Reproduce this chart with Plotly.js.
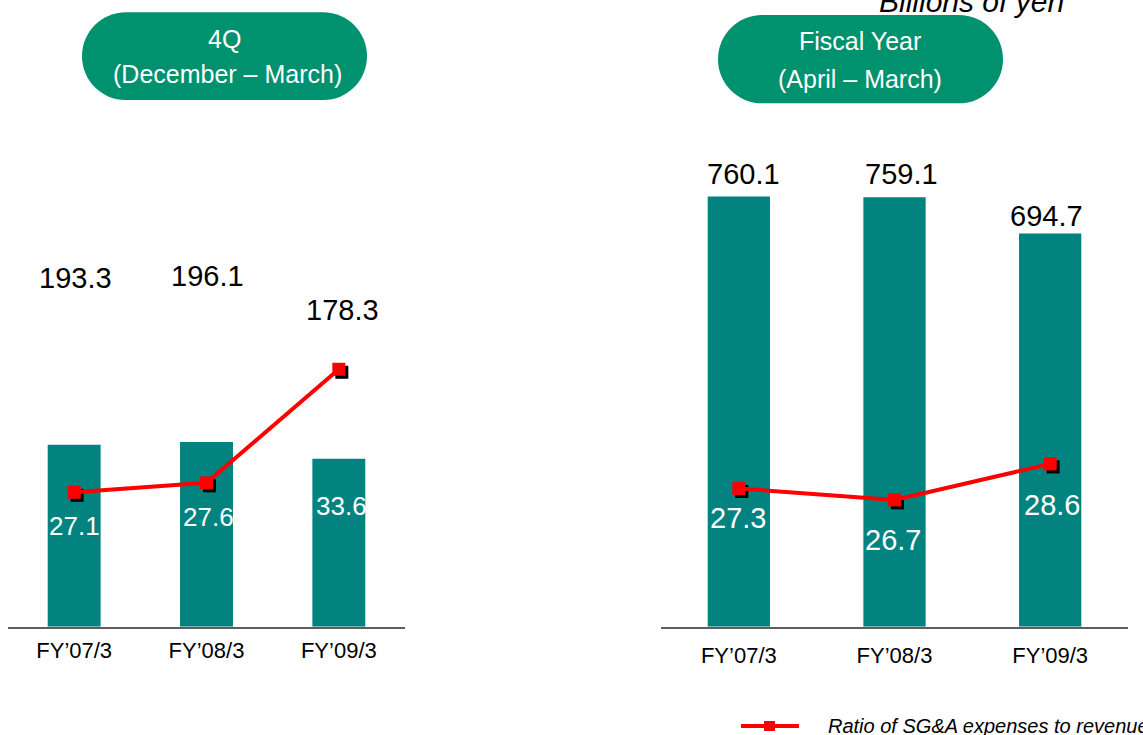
<!DOCTYPE html>
<html>
<head>
<meta charset="utf-8">
<script src="https://cdn.plot.ly/plotly-3.0.1.min.js"></script>
<style>html,body{margin:0;padding:0;background:#fff;}#chart{width:1143px;height:735px;}</style>
</head>
<body>
<div id="chart"></div>
<script>
// ---- data ----
const periods = ['FY\u201907/3', 'FY\u201908/3', 'FY\u201909/3'];
const quarterSGA = [193.3, 196.1, 178.3];     // 4Q SG&A, billions of yen
const quarterRatio = [27.1, 27.6, 33.6];      // 4Q ratio to revenue, %
const yearSGA = [760.1, 759.1, 694.7];        // fiscal year SG&A
const yearRatio = [27.3, 26.7, 28.6];         // fiscal year ratio, %
const leftTitle = ['4Q', '(December \u2013 March)'];
const rightTitle = ['Fiscal Year', '(April \u2013 March)'];
const unitText = 'Billions of yen';
const legendText = 'Ratio of SG&A expenses to revenue';

// ---- layout helpers ----
const W = 1143, H = 735;
const fx = p => p / W;
const fy = p => 1 - p / H;
const BAR = '#02837F', RED = '#FF0000', PILL = '#00916E';
const FONT = 'Liberation Sans, Arial, sans-serif';

const leftDom = [fx(8), fx(405)];
const rightDom = [fx(661), fx(1128)];
const yDom = [fy(626.7), fy(120)];
const SH = 3; // shadow offset px
const leftDomS = [fx(8 + SH), fx(405 + SH)];
const rightDomS = [fx(661 + SH), fx(1128 + SH)];
const yDomS = [fy(626.7 + SH), fy(120 + SH)];

const qMax = 538.1, yMax = 895.5, rRange = [20, 46.77];

function pill(x0, y0, x1, y1) {
  const r = (y1 - y0) / 2, k = 0.5523 * r;
  const P = (x, y) => fx(x).toFixed(5) + ',' + fy(y).toFixed(5);
  return 'M' + P(x0 + r, y0) + ' L' + P(x1 - r, y0) +
    ' C' + P(x1 - r + k, y0) + ' ' + P(x1, y0 + r - k) + ' ' + P(x1, y0 + r) +
    ' C' + P(x1, y0 + r + k) + ' ' + P(x1 - r + k, y1) + ' ' + P(x1 - r, y1) +
    ' L' + P(x0 + r, y1) +
    ' C' + P(x0 + r - k, y1) + ' ' + P(x0, y0 + r + k) + ' ' + P(x0, y0 + r) +
    ' C' + P(x0, y0 + r - k) + ' ' + P(x0 + r - k, y0) + ' ' + P(x0 + r, y0) + ' Z';
}

const traces = [
  {type: 'bar', x: periods, y: quarterSGA, xaxis: 'x', yaxis: 'y', width: 0.4,
   marker: {color: BAR}, hoverinfo: 'skip', showlegend: false},
  {type: 'bar', x: periods, y: yearSGA, xaxis: 'x2', yaxis: 'y2', width: 0.4,
   marker: {color: BAR}, hoverinfo: 'skip', showlegend: false},
  {type: 'scatter', mode: 'markers', x: periods, y: quarterRatio, xaxis: 'x3', yaxis: 'y3',
   marker: {symbol: 'square', size: 13, color: '#000'}, cliponaxis: false, hoverinfo: 'skip', showlegend: false},
  {type: 'scatter', mode: 'markers', x: periods, y: yearRatio, xaxis: 'x4', yaxis: 'y4',
   marker: {symbol: 'square', size: 13, color: '#000'}, cliponaxis: false, hoverinfo: 'skip', showlegend: false},
  {type: 'scatter', mode: 'lines+markers', x: periods, y: quarterRatio, xaxis: 'x5', yaxis: 'y5',
   line: {color: RED, width: 4}, marker: {symbol: 'square', size: 13, color: RED},
   cliponaxis: false, hoverinfo: 'skip', showlegend: false},
  {type: 'scatter', mode: 'lines+markers', x: periods, y: yearRatio, xaxis: 'x6', yaxis: 'y6',
   line: {color: RED, width: 4}, marker: {symbol: 'square', size: 13, color: RED},
   cliponaxis: false, hoverinfo: 'skip', showlegend: false}
];

function shownX(dom, anchor, standoff) {
  return {type: 'category', domain: dom, anchor: anchor, range: [-0.5, 2.5],
    showline: true, linecolor: '#5e5e5e', linewidth: 2, ticks: '', showgrid: false,
    zeroline: false, tickfont: {size: 22, color: '#000', family: FONT},
    ticklabelstandoff: standoff, fixedrange: true};
}
function hiddenX(dom, anchor) {
  return {type: 'category', domain: dom, anchor: anchor, range: [-0.5, 2.5], visible: false, fixedrange: true};
}
function hiddenY(dom, anchor, range) {
  return {domain: dom, anchor: anchor, range: range, visible: false, fixedrange: true};
}

// label offsets (pixels)
const qBarLift = [167, 166, 149], qBarDx = [1.6, 1, 3.7];
const yBarLift = [23, 23.6, 18], yBarDx = [4.7, 7, -3.7];
const qRatioDrop = [-33.7, -33.9, -137.2], qRatioDx = [0, 1.5, 2.7];
const yRatioDrop = [-29, -40, -40.6], yRatioDx = [-0.8, -1.5, 1.5];

const annotations = [];
periods.forEach((p, i) => {
  annotations.push({xref: 'x', yref: 'y', x: p, y: quarterSGA[i], text: quarterSGA[i].toFixed(1),
    showarrow: false, xanchor: 'center', yanchor: 'middle', yshift: qBarLift[i], xshift: qBarDx[i],
    font: {size: 29, color: '#000', family: FONT}});
  annotations.push({xref: 'x2', yref: 'y2', x: p, y: yearSGA[i], text: yearSGA[i].toFixed(1),
    showarrow: false, xanchor: 'center', yanchor: 'middle', yshift: yBarLift[i], xshift: yBarDx[i],
    font: {size: 29, color: '#000', family: FONT}});
  annotations.push({xref: 'x5', yref: 'y5', x: p, y: quarterRatio[i], text: quarterRatio[i].toFixed(1),
    showarrow: false, xanchor: 'center', yanchor: 'middle', yshift: qRatioDrop[i], xshift: qRatioDx[i],
    font: {size: 26, color: '#fff', family: FONT}});
  annotations.push({xref: 'x6', yref: 'y6', x: p, y: yearRatio[i], text: yearRatio[i].toFixed(1),
    showarrow: false, xanchor: 'center', yanchor: 'middle', yshift: yRatioDrop[i], xshift: yRatioDx[i],
    font: {size: 29, color: '#fff', family: FONT}});
});

const pillFont = {size: 25, color: '#fff', family: FONT};
annotations.push(
  {xref: 'paper', yref: 'paper', x: fx(224), y: fy(39), text: leftTitle[0], showarrow: false, xanchor: 'center', yanchor: 'middle', font: pillFont},
  {xref: 'paper', yref: 'paper', x: fx(227.5), y: fy(74.5), text: leftTitle[1], showarrow: false, xanchor: 'center', yanchor: 'middle', font: pillFont},
  {xref: 'paper', yref: 'paper', x: fx(860.3), y: fy(41.3), text: rightTitle[0], showarrow: false, xanchor: 'center', yanchor: 'middle', font: pillFont},
  {xref: 'paper', yref: 'paper', x: fx(860), y: fy(78.7), text: rightTitle[1], showarrow: false, xanchor: 'center', yanchor: 'middle', font: pillFont},
  {xref: 'paper', yref: 'paper', x: fx(1066), y: fy(1.5), text: '<i>' + unitText + '</i>', showarrow: false, xanchor: 'right', yanchor: 'middle',
   font: {size: 30, color: '#000', family: FONT}},
  {xref: 'paper', yref: 'paper', x: fx(826), y: fy(726), text: '<i>' + legendText + '</i>', showarrow: false, xanchor: 'left', yanchor: 'middle',
   font: {size: 20, color: '#000', family: FONT}}
);

const shapes = [
  {type: 'path', xref: 'paper', yref: 'paper', path: pill(82, 12.3, 367, 100), fillcolor: PILL, line: {width: 0}, layer: 'below'},
  {type: 'path', xref: 'paper', yref: 'paper', path: pill(718, 15, 1003, 103.3), fillcolor: PILL, line: {width: 0}, layer: 'below'},
  {type: 'line', xref: 'paper', yref: 'paper', x0: fx(741), x1: fx(799), y0: fy(726), y1: fy(726), line: {color: RED, width: 4}},
  {type: 'rect', xref: 'paper', yref: 'paper', x0: fx(764), x1: fx(775), y0: fy(721), y1: fy(731), fillcolor: RED, line: {width: 0}}
];

const layout = {
  width: W, height: H,
  margin: {l: 0, r: 0, t: 0, b: 0, pad: 0},
  paper_bgcolor: '#fff', plot_bgcolor: 'rgba(0,0,0,0)',
  showlegend: false,
  font: {family: FONT, color: '#000'},
  xaxis: shownX(leftDom, 'y', 3),
  yaxis: hiddenY(yDom, 'x', [0, qMax]),
  xaxis2: shownX(rightDom, 'y2', 8),
  yaxis2: hiddenY(yDom, 'x2', [0, yMax]),
  xaxis3: hiddenX(leftDomS, 'y3'),
  yaxis3: hiddenY(yDomS, 'x3', rRange),
  xaxis4: hiddenX(rightDomS, 'y4'),
  yaxis4: hiddenY(yDomS, 'x4', rRange),
  xaxis5: hiddenX(leftDom, 'y5'),
  yaxis5: hiddenY(yDom, 'x5', rRange),
  xaxis6: hiddenX(rightDom, 'y6'),
  yaxis6: hiddenY(yDom, 'x6', rRange),
  annotations: annotations,
  shapes: shapes
};

Plotly.newPlot('chart', traces, layout, {staticPlot: true, displayModeBar: false});
</script>
</body>
</html>
